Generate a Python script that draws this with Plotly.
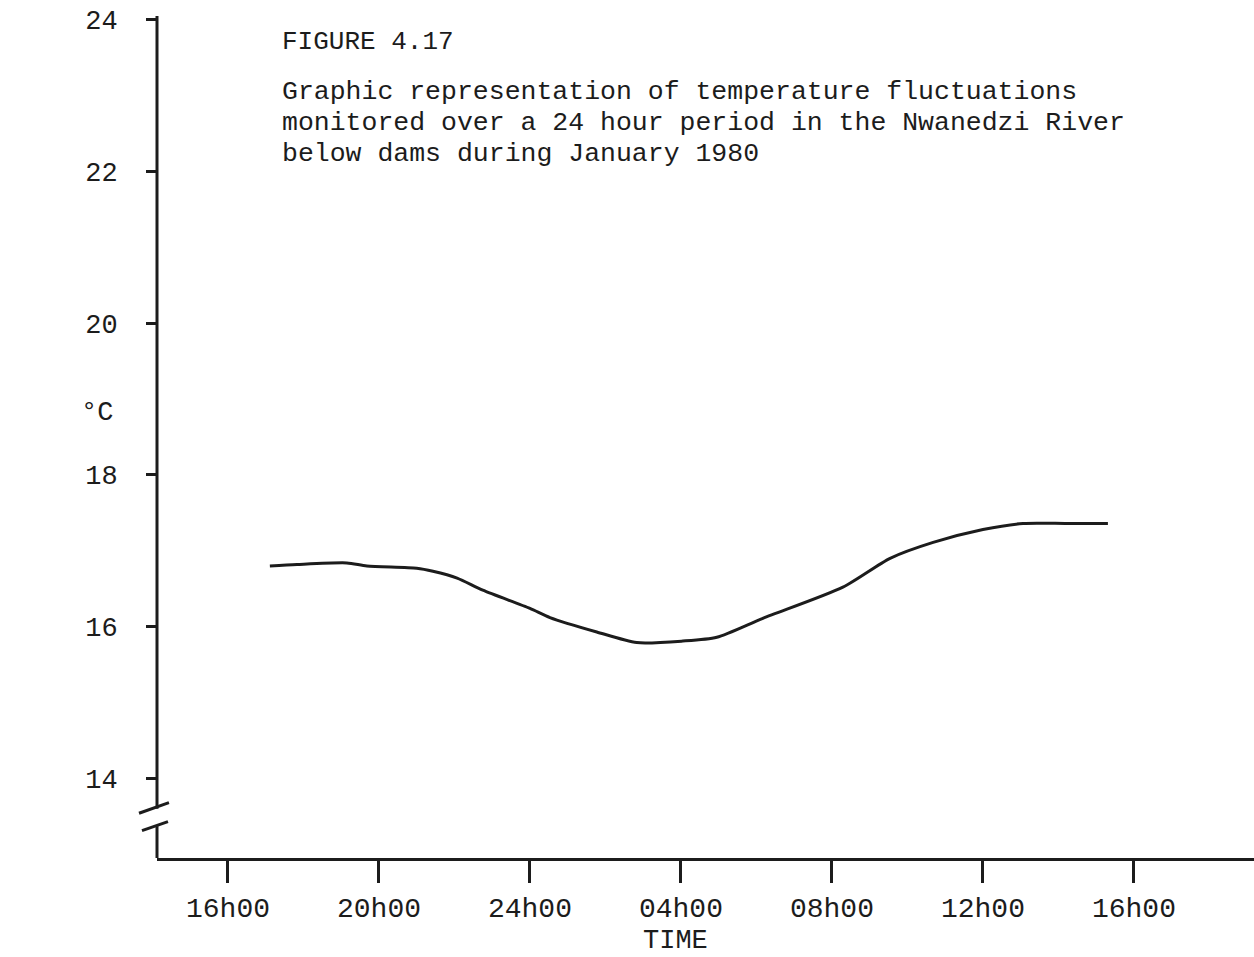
import plotly.graph_objects as go

# Hours elapsed since 16h00 and water temperature (°C)
hours = [1.11, 1.83, 3.15, 3.68, 5.0, 5.43, 6.07, 6.75, 8.0, 8.53, 9.77, 10.83,
         12.05, 12.95, 14.17, 16.29, 17.54, 18.68, 20.0, 21.06, 22.22, 23.31]
temps = [16.80, 16.82, 16.84, 16.80, 16.77, 16.73, 16.64, 16.48, 16.24, 16.12, 15.93, 15.79,
         15.81, 15.86, 16.11, 16.52, 16.90, 17.11, 17.28, 17.36, 17.36, 17.36]

x_tick_vals = [0, 4, 8, 12, 16, 20, 24]
x_tick_text = ["16h00", "20h00", "24h00", "04h00", "08h00", "12h00", "16h00"]
y_tick_vals = [14, 16, 18, 20, 22, 24]

title_lines = [
    "Graphic representation of temperature fluctuations",
    "monitored over a 24 hour period in the Nwanedzi River",
    "below dams during January 1980",
]

INK = "#1c1c1c"
FONT = "Liberation Mono, Courier New, monospace"

fig = go.Figure()
fig.add_trace(go.Scatter(
    x=hours, y=temps, mode="lines",
    line=dict(color=INK, width=3, shape="spline", smoothing=0.7),
    hoverinfo="skip", showlegend=False,
))

Y_MIN, Y_MAX = 12.95, 24.05

# Vertical axis drawn in two pieces with a break near the bottom
axis_style = dict(color=INK, width=3)
fig.add_shape(type="line", xref="paper", yref="y", x0=0, x1=0, y0=24.05, y1=13.6, line=axis_style)
fig.add_shape(type="line", xref="paper", yref="y", x0=0, x1=0, y0=13.37, y1=Y_MIN, line=axis_style)
fig.add_shape(type="line", xref="paper", yref="y", x0=-0.0164, x1=0.0109, y0=13.54, y1=13.68, line=axis_style)
fig.add_shape(type="line", xref="paper", yref="y", x0=-0.0137, x1=0.0100, y0=13.31, y1=13.43, line=axis_style)

fig.add_annotation(text="FIGURE 4.17", xref="paper", yref="y", x=0.112, y=23.71,
                   xanchor="left", yanchor="middle", showarrow=False,
                   font=dict(family=FONT, size=26, color=INK))
for i, line in enumerate(title_lines):
    fig.add_annotation(text=line, xref="paper", yref="y", x=0.112, y=23.05 - 0.41 * i,
                       xanchor="left", yanchor="middle", showarrow=False,
                       font=dict(family=FONT, size=26.5, color=INK))

fig.add_annotation(text="°C", xref="paper", yref="y", x=-0.055, y=18.82,
                   xanchor="center", yanchor="middle", showarrow=False,
                   font=dict(family=FONT, size=27, color=INK))
fig.add_annotation(text="TIME", xref="paper", yref="paper", x=(675 - 157) / 1097, y=-0.098,
                   xanchor="center", yanchor="middle", showarrow=False,
                   font=dict(family=FONT, size=27, color=INK))

fig.update_xaxes(
    range=[-1.88, 27.18], tickvals=x_tick_vals, ticktext=x_tick_text,
    showline=True, linecolor=INK, linewidth=3,
    ticks="outside", ticklen=22, tickwidth=3, tickcolor=INK,
    showgrid=False, zeroline=False, ticklabelstandoff=0,
    tickfont=dict(family=FONT, size=28, color=INK),
)
fig.update_yaxes(
    range=[Y_MIN, Y_MAX], tickvals=y_tick_vals,
    showline=False, ticks="outside", ticklen=10, tickwidth=3, tickcolor=INK,
    showgrid=False, zeroline=False, ticklabelstandoff=23,
    tickfont=dict(family=FONT, size=27, color=INK),
)
fig.update_layout(
    width=1254, height=957,
    margin=dict(l=157, r=0, t=16, b=99),
    paper_bgcolor="white", plot_bgcolor="white",
)

fig.write_html("out.html")
